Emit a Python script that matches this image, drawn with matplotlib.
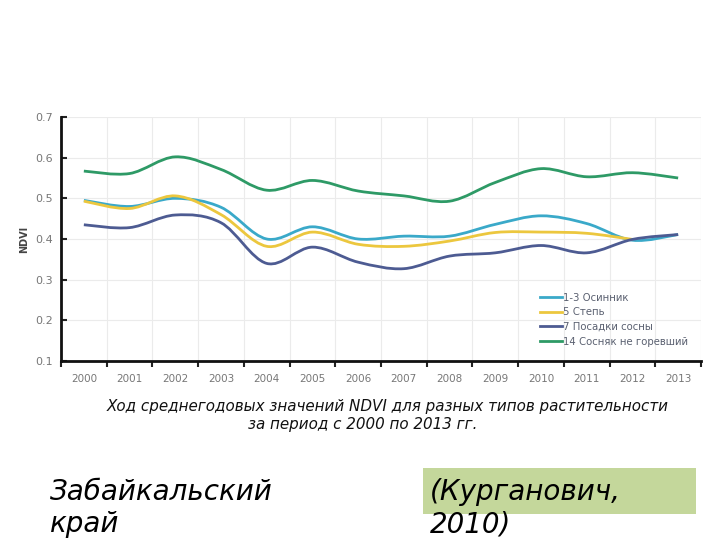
import numpy as np
import matplotlib
matplotlib.use("Agg")
import matplotlib.pyplot as plt
from matplotlib.path import Path
from matplotlib.patches import PathPatch, Rectangle
from matplotlib.lines import Line2D

# years and NDVI values
years = list(range(2000, 2014))
osinnik = [0.495, 0.480, 0.500, 0.478, 0.400, 0.430, 0.400, 0.407, 0.407, 0.436, 0.457, 0.438, 0.397, 0.411]
step = [0.493, 0.475, 0.506, 0.460, 0.382, 0.417, 0.387, 0.382, 0.395, 0.416, 0.417, 0.414, 0.399]
sosna = [0.435, 0.428, 0.459, 0.440, 0.340, 0.380, 0.343, 0.327, 0.358, 0.366, 0.384, 0.366, 0.399, 0.411]
sosnyak = [0.567, 0.561, 0.602, 0.571, 0.520, 0.544, 0.518, 0.506, 0.493, 0.539, 0.573, 0.553, 0.563, 0.550]

names = ["1-3 Осинник", "5 Степь", "7 Посадки сосны", "14 Сосняк не горевший"]
colors = ["#3aa9c9", "#ecc73e", "#4d5b92", "#2e9a66"]
series = [osinnik, step, sosna, sosnyak]

fig = plt.figure(figsize=(7.2, 5.4), dpi=100)
ax = fig.add_axes([61 / 720, 1 - 361 / 540, 640 / 720, 244 / 540])


def smooth_path(xs, ys):
    # excel-like smoothed line: catmull-rom segments drawn as cubic beziers
    pts = np.column_stack([xs, ys])
    verts = [pts[0]]
    codes = [Path.MOVETO]
    n = len(pts)
    for i in range(n - 1):
        p0 = pts[max(i - 1, 0)]
        p1 = pts[i]
        p2 = pts[i + 1]
        p3 = pts[min(i + 2, n - 1)]
        c1 = p1 + (p2 - p0) / 6
        c2 = p2 - (p3 - p1) / 6
        verts += [c1, c2, p2]
        codes += [Path.CURVE4] * 3
    return Path(verts, codes)


# draw order: green last like the reference
for vals, col in zip(series, colors):
    xs = np.arange(len(vals)) + 0.5
    ax.add_patch(PathPatch(smooth_path(xs, vals), fill=False, edgecolor=col, lw=2, zorder=3))

ax.set_xlim(0, 14)
ax.set_ylim(0.1, 0.7)
ax.set_xticks(np.arange(0, 15))
ax.set_xticklabels([])
ax.set_xticks(np.arange(14) + 0.5, minor=True)
ax.set_xticklabels([str(y) for y in years], minor=True, fontsize=7.5, color="#777777")
ax.tick_params(axis="x", which="minor", length=0, pad=9)
ax.tick_params(axis="x", which="major", length=4, width=1.5, direction="out", color="#222222")
ax.set_yticks(np.arange(0.1, 0.71, 0.1))
ax.set_yticklabels(["0.1", "0.2", "0.3", "0.4", "0.5", "0.6", "0.7"])
ax.tick_params(axis="y", length=4, width=1.5, direction="in", labelsize=8, labelcolor="#777777",
               color="#222222", pad=6)
ax.grid(True, which="major", color="#ebebeb", lw=0.8)
for s in ["top", "right"]:
    ax.spines[s].set_visible(False)
for s in ["left", "bottom"]:
    ax.spines[s].set_linewidth(2)
    ax.spines[s].set_color("#111111")
ax.set_ylabel("NDVI", fontsize=7, fontweight="bold", color="#444444", labelpad=4)

handles = [Line2D([], [], color=c, lw=2) for c in colors]
ax.legend(handles, names, loc="upper left", bbox_to_anchor=(0.74, 0.30), frameon=False,
          fontsize=7.3, handlelength=2.2, handletextpad=0.1, labelspacing=0.45,
          labelcolor="#5a6070", borderpad=0)

fig.text(388 / 720, 1 - 407 / 540, "Ход среднегодовых значений NDVI для разных типов растительности",
         ha="center", va="center", fontsize=10.9, style="italic", color="#111111")
fig.text(363 / 720, 1 - 424 / 540, "за период с 2000 по 2013 гг.",
         ha="center", va="center", fontsize=10.9, style="italic", color="#111111")

fig.patches.append(Rectangle((423 / 720, 1 - 514 / 540), 273 / 720, 46 / 540,
                             transform=fig.transFigure, facecolor="#c4d79b", edgecolor="none"))
fig.text(50 / 720, 1 - 492 / 540, "Забайкальский", ha="left", va="center", fontsize=20,
         style="italic")
fig.text(50 / 720, 2 / 540, "край", ha="left", va="bottom", fontsize=20,
         style="italic")
fig.text(430 / 720, 1 - 492 / 540, "(Курганович,", ha="left", va="center", fontsize=20,
         style="italic")
fig.text(430 / 720, 2 / 540, "2010)", ha="left", va="bottom", fontsize=20,
         style="italic")

fig.savefig("out.png", dpi=100)
